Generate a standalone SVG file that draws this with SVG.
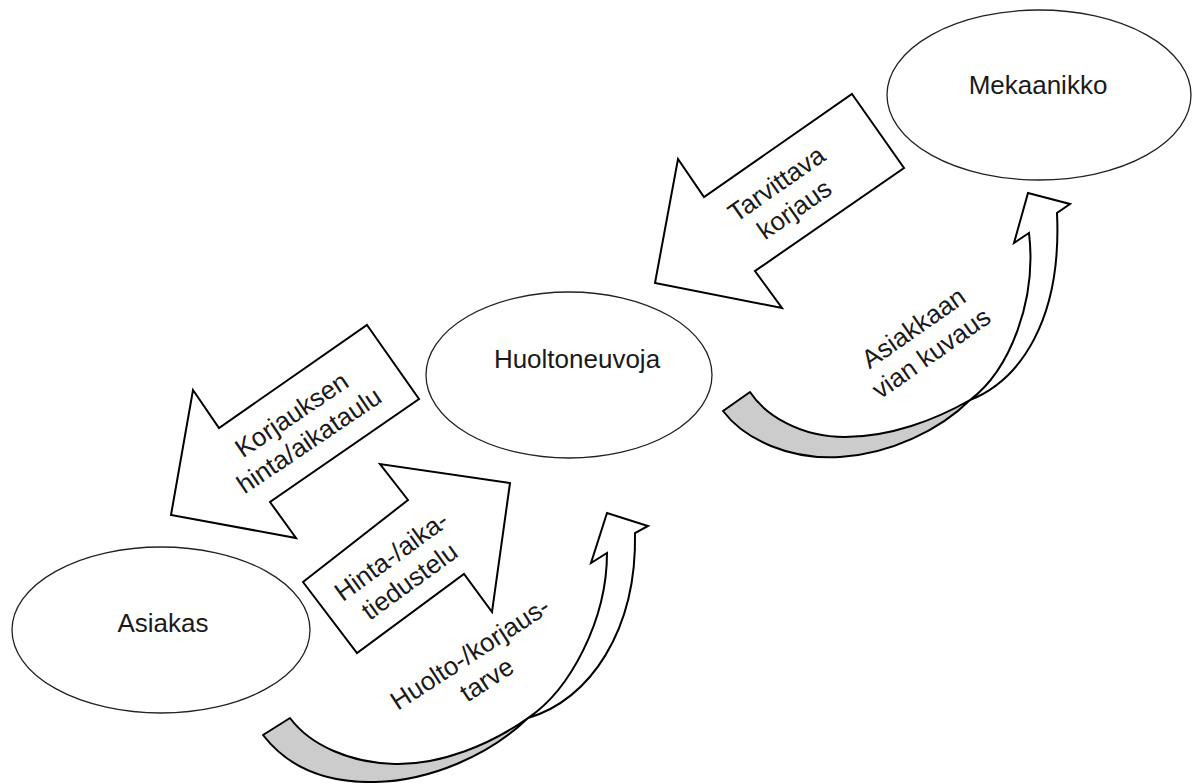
<svg xmlns="http://www.w3.org/2000/svg" width="1200" height="783" viewBox="0 0 1200 783">
<style>
.node{fill:#fff;stroke:#222;stroke-width:1.3}
.blk{fill:#fff;stroke:#000;stroke-width:2;stroke-linejoin:miter}
.back{fill:#cccccc;stroke:#000;stroke-width:2;stroke-linejoin:round}
.front{fill:#fff;stroke:#000;stroke-width:2;stroke-linejoin:miter}
text{font-family:"Liberation Sans",Arial,sans-serif;font-size:26px;fill:#1a1a1a;text-anchor:middle}
</style>
<rect width="1200" height="783" fill="#fff"/>
<g id="n-mekaanikko"><ellipse class="node" cx="1039" cy="95" rx="152" ry="85"/><text x="1038" y="94">Mekaanikko</text></g>
<g id="n-huoltoneuvoja"><ellipse class="node" cx="569" cy="375" rx="143" ry="83"/><text x="577" y="368">Huoltoneuvoja</text></g>
<g id="n-asiakas"><ellipse class="node" cx="161" cy="630" rx="149" ry="83"/><text x="163" y="632">Asiakas</text></g>
<g id="connectors">
<g id="c-tarvittava">
<polygon class="blk" points="852,94 904,168 755,271 782,308 655,283 678,159 704,197"/>
<text transform="translate(785,196) rotate(-35)"><tspan x="0" y="-6">Tarvittava</tspan><tspan x="0" y="25">korjaus</tspan></text>
</g>
<g id="c-korjauksen">
<polygon class="blk" points="367,325 419,399 270,502 296,538 171,515 193,390 219,428"/>
<text transform="translate(300,427) rotate(-34)"><tspan x="0" y="-6">Korjauksen</tspan><tspan x="0" y="25">hinta/aikataulu</tspan></text>
</g>
<g id="c-hinta">
<polygon class="blk" points="303,582 408,500 380,464 510,483 492,612 464,574 357,653"/>
<text transform="translate(400,568) rotate(-36)"><tspan x="0" y="-6">Hinta-/aika-</tspan><tspan x="0" y="25">tiedustelu</tspan></text>
</g>
<g id="c-huolto">
<path class="back" d="M263,735 C290,770 330,783 375,782 C430,781 490,755 528,718 C490,745 440,765 395,764 C350,763 310,745 290,718 Z"/>
<path class="front" d="M528,718 C590,700 637,630 635,533 L648,526 L607,513 L591,563 L607,553 C607,620 570,690 528,718 Z"/>
<text transform="translate(478,666) rotate(-33)"><tspan x="0" y="-6">Huolto-/korjaus-</tspan><tspan x="0" y="25">tarve</tspan></text>
</g>
<g id="c-asiakkaan">
<path class="back" d="M723,411 C745,440 790,460 840,457 C890,454 940,430 970,400 C935,420 890,437 845,437 C800,437 765,415 750,392 Z"/>
<path class="front" d="M970,400 C1020,380 1062,320 1057,213 L1070,204 L1028,193 L1014,243 L1029,233 C1037,300 1010,370 970,400 Z"/>
<text transform="translate(922,340) rotate(-35)"><tspan x="0" y="-6">Asiakkaan</tspan><tspan x="0" y="25">vian kuvaus</tspan></text>
</g>
</g>
</svg>
